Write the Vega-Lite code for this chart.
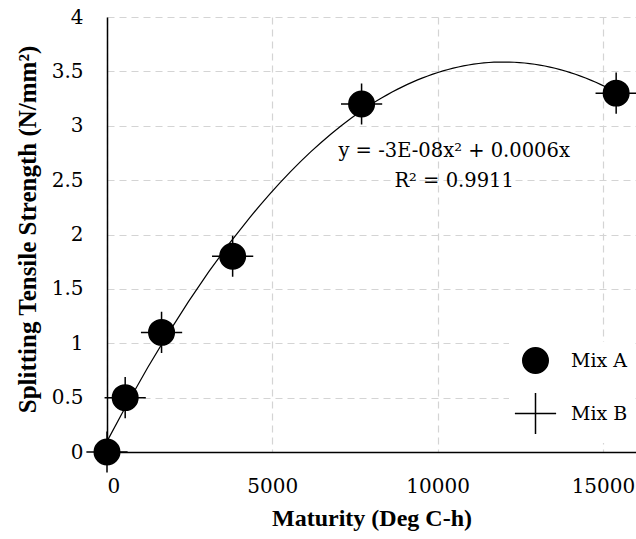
{
  "$schema": "https://vega.github.io/schema/vega-lite/v6.json",
  "autosize": "none",
  "width": 529,
  "height": 435,
  "padding": {"left": 107, "top": 17, "right": 0, "bottom": 87},
  "background": "white",
  "datasets": {
    "pts": [
      {"series": "Mix A", "maturity": 0, "strength": 0},
      {"series": "Mix A", "maturity": 550, "strength": 0.5},
      {"series": "Mix A", "maturity": 1650, "strength": 1.1},
      {"series": "Mix A", "maturity": 3800, "strength": 1.8},
      {"series": "Mix A", "maturity": 7700, "strength": 3.2},
      {"series": "Mix A", "maturity": 15400, "strength": 3.3},
      {"series": "Mix B", "maturity": 0, "strength": 0},
      {"series": "Mix B", "maturity": 550, "strength": 0.5},
      {"series": "Mix B", "maturity": 1650, "strength": 1.1},
      {"series": "Mix B", "maturity": 3800, "strength": 1.8},
      {"series": "Mix B", "maturity": 7700, "strength": 3.2},
      {"series": "Mix B", "maturity": 15400, "strength": 3.3}
    ],
    "notes": [
      {"label": "y = -3E-08x² + 0.0006x", "maturity": 10500, "strength": 2.71},
      {"label": "R² = 0.9911", "maturity": 10500, "strength": 2.44}
    ]
  },
  "layer": [
    {
      "data": {"name": "pts"},
      "transform": [
        {"filter": "datum.series === 'Mix A'"},
        {"regression": "strength", "on": "maturity", "method": "poly", "order": 2}
      ],
      "mark": {"type": "line", "color": "black", "strokeWidth": 1.2},
      "encoding": {
        "x": {"field": "maturity", "type": "quantitative"},
        "y": {"field": "strength", "type": "quantitative"}
      }
    },
    {
      "data": {"name": "pts"},
      "mark": {"type": "point", "filled": true, "fill": "black", "stroke": "black", "strokeWidth": 1.5, "opacity": 1},
      "encoding": {
        "x": {
          "field": "maturity", "type": "quantitative",
          "scale": {"domain": [0, 16000], "nice": false},
          "axis": {
            "title": "Maturity (Deg C-h)", "values": [0, 5000, 10000, 15000], "format": "d",
            "labelPadding": 24, "titleX": 264.5, "titleY": 66, "titleBaseline": "middle", "titleFontSize": 24
          }
        },
        "y": {
          "field": "strength", "type": "quantitative",
          "scale": {"domain": [0, 4], "nice": false},
          "axis": {
            "title": "Splitting Tensile Strength (N/mm²)", "values": [0, 0.5, 1, 1.5, 2, 2.5, 3, 3.5, 4], "format": "~g",
            "labelPadding": 24, "titleX": -80, "titleY": 212, "titleBaseline": "middle", "titleAngle": -90, "titleFontSize": 25
          }
        },
        "shape": {
          "field": "series", "type": "nominal",
          "scale": {"domain": ["Mix A", "Mix B"], "range": ["circle", "M-1,0H1M0,-1V1"]},
          "legend": {
            "title": null, "orient": "none", "legendX": 402, "legendY": 325,
            "fillColor": "white", "padding": 5, "rowPadding": 12, "labelOffset": 14,
            "labelFont": "DejaVu Serif", "labelFontSize": 19, "labelColor": "black",
            "symbolFillColor": "black", "symbolStrokeColor": "black", "symbolStrokeWidth": 1.5
          }
        },
        "size": {
          "field": "series", "type": "nominal",
          "scale": {"domain": ["Mix A", "Mix B"], "range": [650, 1700]},
          "legend": {
            "title": null, "orient": "none", "legendX": 402, "legendY": 325
          }
        }
      }
    },
    {
      "data": {"name": "notes"},
      "mark": {"type": "text", "font": "DejaVu Serif", "fontSize": 19.5, "color": "black", "align": "center", "baseline": "alphabetic"},
      "encoding": {
        "x": {"field": "maturity", "type": "quantitative"},
        "y": {"field": "strength", "type": "quantitative"},
        "text": {"field": "label"}
      }
    }
  ],
  "config": {
    "view": {"stroke": null},
    "axis": {
      "labelFont": "DejaVu Serif", "labelFontSize": 20, "labelColor": "black",
      "titleFont": "Liberation Serif", "titleFontSize": 24, "titleFontWeight": "bold", "titleColor": "black",
      "domainColor": "black", "domainWidth": 1.5, "ticks": false,
      "grid": true, "gridColor": "#d4d4d4", "gridDash": [7, 5], "gridWidth": 1.2
    }
  }
}
